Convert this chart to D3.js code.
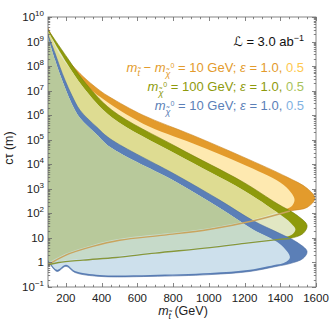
<!DOCTYPE html>
<html>
<head>
<meta charset="utf-8">
<script src="https://cdn.jsdelivr.net/npm/d3@7"></script>
<style>
  body { margin: 0; background: #fff; }
  svg { display: block; }
  text { font-family: "Liberation Sans", Arial, sans-serif; }
</style>
</head>
<body>
<div id="chart"></div>
<script>
// stop mass (GeV) and c*tau (m)
const massTicks = [200, 400, 600, 800, 1000, 1200, 1400, 1600];
const ctauExponents = [-1, 0, 1, 2, 3, 4, 5, 6, 7, 8, 9, 10];

// mt - mchi = 10 GeV, eps = 1.0 (outer) and 0.5 (inner)
const orangeEps10 = [
  [100, 3.5e9], [167, 4.5e8], [279, 5e7], [391, 1.0e7], [447, 5.4e6], [632, 1e6],
  [912, 1.5e5], [1191, 2e4], [1438, 3e3], [1550, 1.05e3], [1594, 410], [1550, 175],
  [1454, 125], [1250, 50], [1000, 22], [750, 13], [500, 8], [350, 4.5], [200, 2], [100, 0.8]
];
const orangeEps05 = [
  [100, 3e9], [167, 2.8e8], [279, 2.8e7], [391, 5.6e6], [632, 4.5e5], [912, 7e4],
  [1191, 1e4], [1400, 1.8e3], [1460, 700], [1480, 350], [1462, 190], [1420, 140],
  [1250, 57], [1000, 25], [750, 15], [500, 9.2], [350, 5.2], [200, 2.3], [100, 0.95]
];

// mchi = 100 GeV
const oliveEps10 = [
  [100, 3e9], [206, 2.3e8], [296, 2.7e7], [458, 1.6e6], [822, 5e4], [1191, 1.9e3],
  [1382, 250], [1494, 83], [1550, 32], [1527, 15], [1454, 9.5], [1382, 8.5],
  [1200, 6], [1007, 4], [700, 2.4], [480, 1.6], [296, 1.25], [160, 1.0], [100, 0.8]
];
const oliveEps05 = [
  [100, 2.6e9], [206, 1.3e8], [296, 1.4e7], [458, 8e5], [822, 2.5e4], [1191, 900],
  [1382, 110], [1460, 40], [1485, 22], [1462, 13], [1400, 9.8],
  [1200, 6.8], [1007, 4.5], [700, 2.7], [480, 1.8], [296, 1.4], [160, 1.12], [100, 0.9]
];

// mchi = 10 GeV
const blueEps10 = [
  [100, 1.9e9], [139, 3.4e8], [167, 9e7], [195, 2.7e7], [234, 6.3e6], [279, 1.6e6],
  [374, 3.2e5], [447, 1.1e5], [822, 3.5e3], [1063, 340], [1247, 51], [1398, 15],
  [1494, 6.6], [1550, 2.8], [1527, 1.45], [1454, 0.9], [1382, 0.7], [1230, 0.43],
  [1007, 0.32], [671, 0.27], [391, 0.27], [251, 0.39], [201, 0.7], [150, 0.43], [100, 1.2]
];
const blueEps05 = [
  [100, 1.5e9], [139, 1.8e8], [167, 4.5e7], [195, 1.3e7], [234, 2.8e6], [279, 7.6e5],
  [374, 1.6e5], [447, 5e4], [822, 1.8e3], [1063, 160], [1247, 22], [1398, 5.6],
  [1454, 1.6], [1420, 0.95], [1380, 0.82], [1230, 0.5], [1007, 0.37], [671, 0.31],
  [391, 0.31], [251, 0.45], [201, 0.8], [150, 0.5], [100, 1.35]
];

const width = 332, height = 329;
const margin = { top: 17, right: 16, bottom: 42, left: 48 };

const svg = d3.select("#chart").append("svg")
  .attr("width", width)
  .attr("height", height);

const x = d3.scaleLinear().domain([100, 1600]).range([margin.left, width - margin.right]);
const y = d3.scaleLog().domain([1e-1, 1e10]).range([height - margin.bottom, margin.top]);

const defs = svg.append("defs");
defs.append("clipPath").attr("id", "plot-clip")
  .append("rect")
  .attr("x", x.range()[0]).attr("y", y.range()[1])
  .attr("width", x.range()[1] - x.range()[0])
  .attr("height", y.range()[0] - y.range()[1]);

const line = d3.line()
  .x(d => x(d[0]))
  .y(d => y(d[1]))
  .curve(d3.curveCatmullRom.alpha(0.5));

const area = pts => line(pts) + "Z";

defs.append("clipPath").attr("id", "orange-in").append("path").attr("d", area(orangeEps05));
defs.append("clipPath").attr("id", "olive-in").append("path").attr("d", area(oliveEps05));

const plot = svg.append("g").attr("clip-path", "url(#plot-clip)");

// regions, painted back to front
plot.append("path").attr("d", area(orangeEps10)).attr("fill", "#e39b2c")
  .attr("stroke", "#c98420").attr("stroke-width", 0.6);
plot.append("path").attr("d", area(orangeEps05)).attr("fill", "#fee9b0");

plot.append("path").attr("d", area(oliveEps10)).attr("fill", "#8e9a0c")
  .attr("stroke", "#75800a").attr("stroke-width", 0.6);
plot.append("path").attr("d", area(oliveEps05)).attr("fill", "#e1e7c3");
plot.append("g").attr("clip-path", "url(#orange-in)")
  .append("path").attr("d", area(oliveEps05)).attr("fill", "#dedc92");

plot.append("path").attr("d", area(blueEps10)).attr("fill", "#5b7fb7")
  .attr("stroke", "#4a6ca0").attr("stroke-width", 0.6);
plot.append("path").attr("d", area(blueEps05)).attr("fill", "#cde0ec");
plot.append("g").attr("clip-path", "url(#olive-in)")
  .append("path").attr("d", area(blueEps05)).attr("fill", "#c6dac9");
plot.append("g").attr("clip-path", "url(#olive-in)")
  .append("g").attr("clip-path", "url(#orange-in)")
  .append("path").attr("d", area(blueEps05)).attr("fill", "#b8c99b");

// lower edges stay visible through the lighter fills
const lowerPart = (pts, from) => pts.slice(from);
plot.append("path")
  .attr("d", line(lowerPart(orangeEps10, 12)))
  .attr("fill", "none").attr("stroke", "#c9a45e").attr("stroke-width", 1.4);
plot.append("path")
  .attr("d", line(lowerPart(oliveEps10, 10)))
  .attr("fill", "none").attr("stroke", "#87983a").attr("stroke-width", 1.4);

// frame with ticks on all four sides
const frameColor = "#666";
const axes = svg.append("g").attr("stroke", frameColor).attr("stroke-width", 0.8);
axes.append("rect")
  .attr("x", x.range()[0]).attr("y", y.range()[1])
  .attr("width", x.range()[1] - x.range()[0])
  .attr("height", y.range()[0] - y.range()[1])
  .attr("fill", "none");

const xMinor = d3.range(100, 1601, 50).filter(v => v % 200 !== 0);
const yMinor = [];
ctauExponents.slice(0, -1).forEach(k => {
  for (let j = 2; j <= 9; j++) yMinor.push(j * Math.pow(10, k));
});
const yMajor = ctauExponents.map(k => Math.pow(10, k));

const x0 = x.range()[0], x1 = x.range()[1];
const yb = y.range()[0], yt = y.range()[1];

[[massTicks, 4], [xMinor, 2.2]].forEach(([vals, len]) => {
  vals.forEach(v => {
    const px = Math.round(x(v)) + 0.5;
    axes.append("line").attr("x1", px).attr("x2", px).attr("y1", yb).attr("y2", yb - len);
    axes.append("line").attr("x1", px).attr("x2", px).attr("y1", yt).attr("y2", yt + len);
  });
});
[[yMajor, 4], [yMinor, 2.2]].forEach(([vals, len]) => {
  vals.forEach(v => {
    const py = Math.round(y(v)) + 0.5;
    axes.append("line").attr("y1", py).attr("y2", py).attr("x1", x0).attr("x2", x0 + len);
    axes.append("line").attr("y1", py).attr("y2", py).attr("x1", x1).attr("x2", x1 - len);
  });
});

// tick labels
const labelColor = "#222";
svg.append("g").selectAll("text")
  .data(massTicks)
  .join("text")
  .attr("x", d => x(d))
  .attr("y", yb + 15)
  .attr("text-anchor", "middle")
  .attr("font-size", 11.5)
  .attr("fill", labelColor)
  .text(d => d);

const yLabels = svg.append("g");
ctauExponents.forEach(k => {
  const t = yLabels.append("text")
    .attr("x", x0 - 4)
    .attr("y", y(Math.pow(10, k)) + 4)
    .attr("text-anchor", "end")
    .attr("font-size", 11.5)
    .attr("fill", labelColor);
  if (k === 0) { t.text("1"); return; }
  t.append("tspan").text("10");
  if (k !== 1) {
    t.append("tspan").attr("dy", -5).attr("font-size", 8)
      .text(k < 0 ? "\u2212" + (-k) : k);
  }
});

// axis titles
const xt = svg.append("text")
  .attr("x", 183).attr("y", 315)
  .attr("text-anchor", "middle")
  .attr("font-size", 12.5)
  .attr("fill", labelColor);
xt.append("tspan").attr("font-style", "italic").text("m");
xt.append("tspan").attr("dy", 4).attr("font-size", 8.5).attr("font-style", "italic").text("t\u0303");
xt.append("tspan").attr("dy", -4).text(" (GeV)");

svg.append("text")
  .attr("transform", "translate(13,148) rotate(-90)")
  .attr("text-anchor", "middle")
  .attr("font-size", 12.5)
  .attr("fill", labelColor)
  .text("c\u03c4 (m)");

// luminosity
const lumi = svg.append("text")
  .attr("x", 304).attr("y", 46)
  .attr("text-anchor", "end")
  .attr("font-size", 13)
  .attr("fill", "#111");
lumi.append("tspan").attr("font-family", "DejaVu Sans").text("\u2112");
lumi.append("tspan").text(" = 3.0 ab");
lumi.append("tspan").attr("dy", -5).attr("font-size", 9).text("\u22121");

// legend lines
const legendRows = [
  { y: 72, color: "#e39b2c", light: "#fec84e", diff: true, mass: "10" },
  { y: 91, color: "#8e9a0c", light: "#a8c25a", diff: false, mass: "100" },
  { y: 110, color: "#5b7fb7", light: "#7fb2e2", diff: false, mass: "10" }
];

legendRows.forEach(r => {
  const t = svg.append("text")
    .attr("x", 304).attr("y", r.y)
    .attr("text-anchor", "end")
    .attr("font-size", 13)
    .attr("fill", r.color);
  if (r.diff) {
    t.append("tspan").attr("font-style", "italic").text("m");
    t.append("tspan").attr("dy", 4).attr("font-size", 9).attr("font-style", "italic").text("t\u0303");
    t.append("tspan").attr("dy", -4).text(" \u2212 ");
  }
  t.append("tspan").attr("font-style", "italic").text("m");
  t.append("tspan").attr("dy", 5).attr("font-size", 9).attr("font-style", "italic").text("\u03c7\u0303");
  t.append("tspan").attr("dy", -9).attr("font-size", 7).text("0");
  t.append("tspan").attr("dy", 4).text(" = " + r.mass + " GeV; ");
  t.append("tspan").attr("font-style", "italic").text("\u03b5");
  t.append("tspan").text(" = 1.0, ");
  t.append("tspan").attr("fill", r.light).text("0.5");
});
</script>
</body>
</html>
